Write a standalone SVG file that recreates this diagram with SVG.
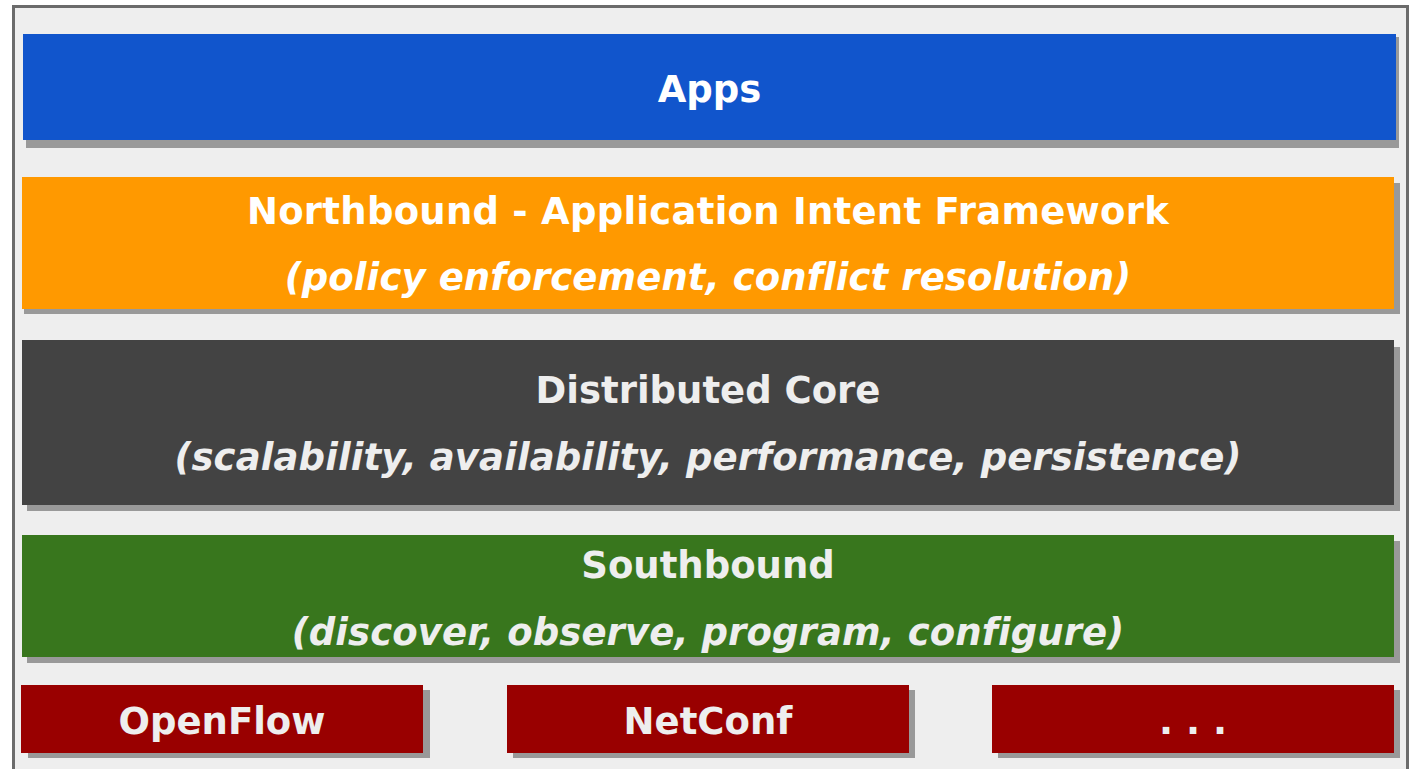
<svg xmlns="http://www.w3.org/2000/svg" width="1409" height="769" viewBox="0 0 1409 769">
<style>
.sh{fill:#999999}
.t{font-family:"DejaVu Sans",Verdana,sans-serif;font-weight:bold;font-size:37px;text-anchor:middle}
.ls{letter-spacing:0.25px}
.i{font-style:italic;letter-spacing:0.1px}
.w{fill:#ffffff}
.g{fill:#eeeeee}
</style>
<rect x="13.5" y="6.5" width="1394" height="800" fill="#eeeeee" stroke="#6b6b6b" stroke-width="3"/>
<g id="apps">
<rect class="sh" x="26" y="37" width="1373" height="111"/>
<rect x="23" y="34" width="1373" height="106" fill="#1155cc"/>
<text class="t w" x="709.5" y="102">Apps</text>
</g>
<g id="northbound">
<rect class="sh" x="24" y="183" width="1376" height="131"/>
<rect x="22" y="177" width="1372" height="132" fill="#ff9900"/>
<text class="t w ls" x="708" y="224">Northbound - Application Intent Framework</text>
<text class="t w i" x="708" y="290">(policy enforcement, conflict resolution)</text>
</g>
<g id="core">
<rect class="sh" x="27" y="347" width="1373" height="164"/>
<rect x="22" y="340" width="1372" height="165" fill="#434343"/>
<text class="t g" x="708" y="403">Distributed Core</text>
<text class="t g i" x="708" y="470">(scalability, availability, performance, persistence)</text>
</g>
<g id="southbound">
<rect class="sh" x="27" y="541" width="1373" height="122"/>
<rect x="22" y="535" width="1372" height="122" fill="#38761d"/>
<text class="t g" x="708" y="578">Southbound</text>
<text class="t g i" x="708" y="645">(discover, observe, program, configure)</text>
</g>
<g id="openflow">
<rect class="sh" x="28" y="690" width="402" height="68"/>
<rect x="21" y="685" width="402" height="68" fill="#990000"/>
<text class="t g" x="222" y="734">OpenFlow</text>
</g>
<g id="netconf">
<rect class="sh" x="513" y="690" width="402" height="68"/>
<rect x="507" y="685" width="402" height="68" fill="#990000"/>
<text class="t g" x="708" y="734">NetConf</text>
</g>
<g id="more">
<rect class="sh" x="998" y="690" width="402" height="68"/>
<rect x="992" y="685" width="402" height="68" fill="#990000"/>
<text class="t g" x="1193" y="734">. . .</text>
</g>
<g id="connectors"/>
</svg>
